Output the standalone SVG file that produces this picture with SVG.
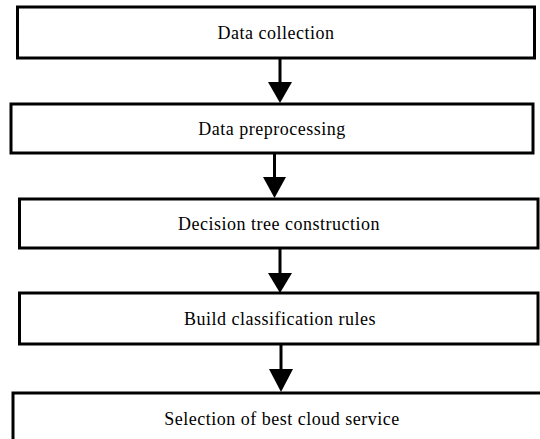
<svg xmlns="http://www.w3.org/2000/svg" width="540" height="439" viewBox="0 0 540 439">
<style>
.box{fill:#fff;stroke:#000;stroke-width:3}
.lbl{font-family:"Liberation Serif","Times New Roman",serif;font-size:18px;letter-spacing:0.5px;fill:#000;text-anchor:middle}
.shaft{stroke:#000;stroke-width:3;fill:none}
.head{fill:#000;stroke:none}
</style>
<rect width="540" height="439" fill="#fff"/>
<g id="n1"><rect class="box" x="17.5" y="7" width="517" height="51"/><text class="lbl" x="276" y="38.5">Data collection</text></g>
<g id="n2"><rect class="box" x="11" y="104" width="522" height="49"/><text class="lbl" x="272" y="134.5">Data preprocessing</text></g>
<g id="n3"><rect class="box" x="19.5" y="199" width="518.5" height="49"/><text class="lbl" x="279" y="229.5">Decision tree construction</text></g>
<g id="n4"><rect class="box" x="19.5" y="293" width="518.5" height="51"/><text class="lbl" x="280" y="324.5">Build classification rules</text></g>
<g id="n5"><rect class="box" x="13" y="393" width="540" height="60"/><text class="lbl" x="282" y="424.5">Selection of best cloud service</text></g>
<g id="connectors">
<line class="shaft" x1="280" y1="58" x2="280" y2="84"/><polygon class="head" points="268,82 292,82 280,103"/>
<line class="shaft" x1="274.5" y1="153" x2="274.5" y2="179"/><polygon class="head" points="263,177 286,177 274.5,198"/>
<line class="shaft" x1="280" y1="248" x2="280" y2="275"/><polygon class="head" points="268,273 292,273 280,293"/>
<line class="shaft" x1="281" y1="344" x2="281" y2="371"/><polygon class="head" points="269,369 293,369 281,392"/>
</g>
</svg>
